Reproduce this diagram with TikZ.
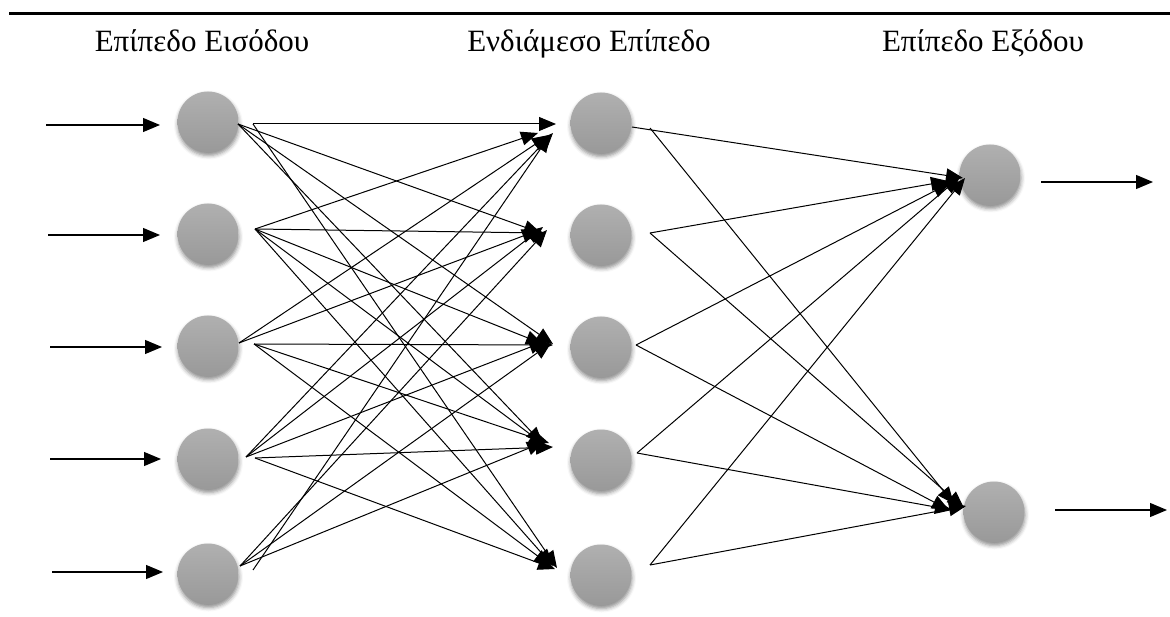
\documentclass[tikz,border=0pt]{standalone}
\usepackage{fontspec}
\setmainfont{Liberation Serif}
\usetikzlibrary{arrows.meta,shadows.blur}

\tikzset{
  neuron/.style={circle, minimum size=61pt, inner sep=0pt,
    top color=black!31, bottom color=black!40, draw=none,
    blur shadow={shadow xshift=0.5pt, shadow yshift=-3pt,
      shadow blur radius=4pt, shadow opacity=45}},
  conn/.style={line width=1pt, -{Triangle[length=17pt,width=14pt]}},
  ioarrow/.style={line width=1.2pt, -{Triangle[length=17pt,width=14pt]}},
  layerlabel/.style={anchor=base, font=\fontsize{31}{37}\selectfont, inner sep=0pt}
}

\begin{document}
\begin{tikzpicture}[x=1pt,y=-1pt]
\useasboundingbox (0,0) rectangle (1170,617);

% rule above the headings
\draw[line width=2.3pt] (9,13.5) -- (1170,13.5);

% headings of the three layers
\node[layerlabel] (lin)  at (202,52) {Επίπεδο Εισόδου};
\node[layerlabel] (lhid) at (589,52) {Ενδιάμεσο Επίπεδο};
\node[layerlabel] (lout) at (983,52) {Επίπεδο Εξόδου};

% neurons
\node[neuron] (i1) at (208,122) {};
\node[neuron] (i2) at (208,234) {};
\node[neuron] (i3) at (208,346) {};
\node[neuron] (i4) at (208,459) {};
\node[neuron] (i5) at (208,574) {};

\node[neuron] (h1) at (601,123) {};
\node[neuron] (h2) at (601,235) {};
\node[neuron] (h3) at (601,347) {};
\node[neuron] (h4) at (601,460) {};
\node[neuron] (h5) at (601,575) {};

\node[neuron] (o1) at (990,175) {};
\node[neuron] (o2) at (994,512) {};

% incoming signals
\draw[ioarrow] ([shift={(-162,3)}]i1.center) -- ([shift={(-48,3)}]i1.center);
\draw[ioarrow] ([shift={(-160,1)}]i2.center) -- ([shift={(-48,1)}]i2.center);
\draw[ioarrow] ([shift={(-158,1)}]i3.center) -- ([shift={(-46,1)}]i3.center);
\draw[ioarrow] ([shift={(-158,0)}]i4.center) -- ([shift={(-47,0)}]i4.center);
\draw[ioarrow] ([shift={(-156,-2)}]i5.center) -- ([shift={(-45,-2)}]i5.center);

% outgoing signals
\draw[ioarrow] ([shift={(51,7)}]o1.center) -- ([shift={(163,7)}]o1.center);
\draw[ioarrow] ([shift={(61,-2)}]o2.center) -- ([shift={(173,-2)}]o2.center);

% input layer -> hidden layer
\draw[conn] ([shift={(45,2)}]i1.center) -- ([shift={(-45,1)}]h1.center);
\draw[conn] ([shift={(30,2)}]i1.center) -- ([shift={(-60,-2)}]h2.center);
\draw[conn] ([shift={(30,2)}]i1.center) -- ([shift={(-48,-3)}]h3.center);
\draw[conn] ([shift={(30,2)}]i1.center) -- ([shift={(-58,-16)}]h4.center);
\draw[conn] ([shift={(45,2)}]i1.center) -- ([shift={(-44,-7)}]h5.center);

\draw[conn] ([shift={(47,-5)}]i2.center) -- ([shift={(-63,10)}]h1.center);
\draw[conn] ([shift={(47,-5)}]i2.center) -- ([shift={(-56,-2)}]h2.center);
\draw[conn] ([shift={(47,-5)}]i2.center) -- ([shift={(-58,-3)}]h3.center);
\draw[conn] ([shift={(47,-5)}]i2.center) -- ([shift={(-55,-14)}]h4.center);
\draw[conn] ([shift={(47,-5)}]i2.center) -- ([shift={(-48,-9)}]h5.center);

\draw[conn] ([shift={(31,-3)}]i3.center) -- ([shift={(-52,12)}]h1.center);
\draw[conn] ([shift={(31,-3)}]i3.center) -- ([shift={(-62,-5)}]h2.center);
\draw[conn] ([shift={(46,-2)}]i3.center) -- ([shift={(-48,-2)}]h3.center);
\draw[conn] ([shift={(46,-2)}]i3.center) -- ([shift={(-52,-17)}]h4.center);
\draw[conn] ([shift={(46,-2)}]i3.center) -- ([shift={(-50,-9)}]h5.center);

\draw[conn] ([shift={(38,-2)}]i4.center) -- ([shift={(-48,10)}]h1.center);
\draw[conn] ([shift={(38,-2)}]i4.center) -- ([shift={(-58,-8)}]h2.center);
\draw[conn] ([shift={(38,-2)}]i4.center) -- ([shift={(-55,-6)}]h3.center);
\draw[conn] ([shift={(47,-1)}]i4.center) -- ([shift={(-48,-13)}]h4.center);
\draw[conn] ([shift={(47,-1)}]i4.center) -- ([shift={(-46,-6)}]h5.center);

\draw[conn] ([shift={(45,-4)}]i5.center) -- ([shift={(-51,12)}]h1.center);
\draw[conn] ([shift={(32,-8)}]i5.center) -- ([shift={(-54,-5)}]h2.center);
\draw[conn] ([shift={(32,-8)}]i5.center) -- ([shift={(-50,-4)}]h3.center);
\draw[conn] ([shift={(32,-8)}]i5.center) -- ([shift={(-57,-18)}]h4.center);

% hidden layer -> output layer
\draw[conn] ([shift={(31,4)}]h1.center)  -- ([shift={(-27,3)}]o1.center);
\draw[conn] ([shift={(49,5)}]h1.center)  -- ([shift={(-40,-8)}]o2.center);
\draw[conn] ([shift={(49,-2)}]h2.center) -- ([shift={(-42,6)}]o1.center);
\draw[conn] ([shift={(49,-2)}]h2.center) -- ([shift={(-30,-4)}]o2.center);
\draw[conn] ([shift={(35,-2)}]h3.center) -- ([shift={(-40,8)}]o1.center);
\draw[conn] ([shift={(35,-2)}]h3.center) -- ([shift={(-45,-2)}]o2.center);
\draw[conn] ([shift={(36,-7)}]h4.center) -- ([shift={(-30,2)}]o1.center);
\draw[conn] ([shift={(36,-7)}]h4.center) -- ([shift={(-42,-2)}]o2.center);
\draw[conn] ([shift={(49,-10)}]h5.center) -- ([shift={(-25,3)}]o1.center);
\draw[conn] ([shift={(49,-10)}]h5.center) -- ([shift={(-28,-6)}]o2.center);
\end{tikzpicture}
\end{document}
